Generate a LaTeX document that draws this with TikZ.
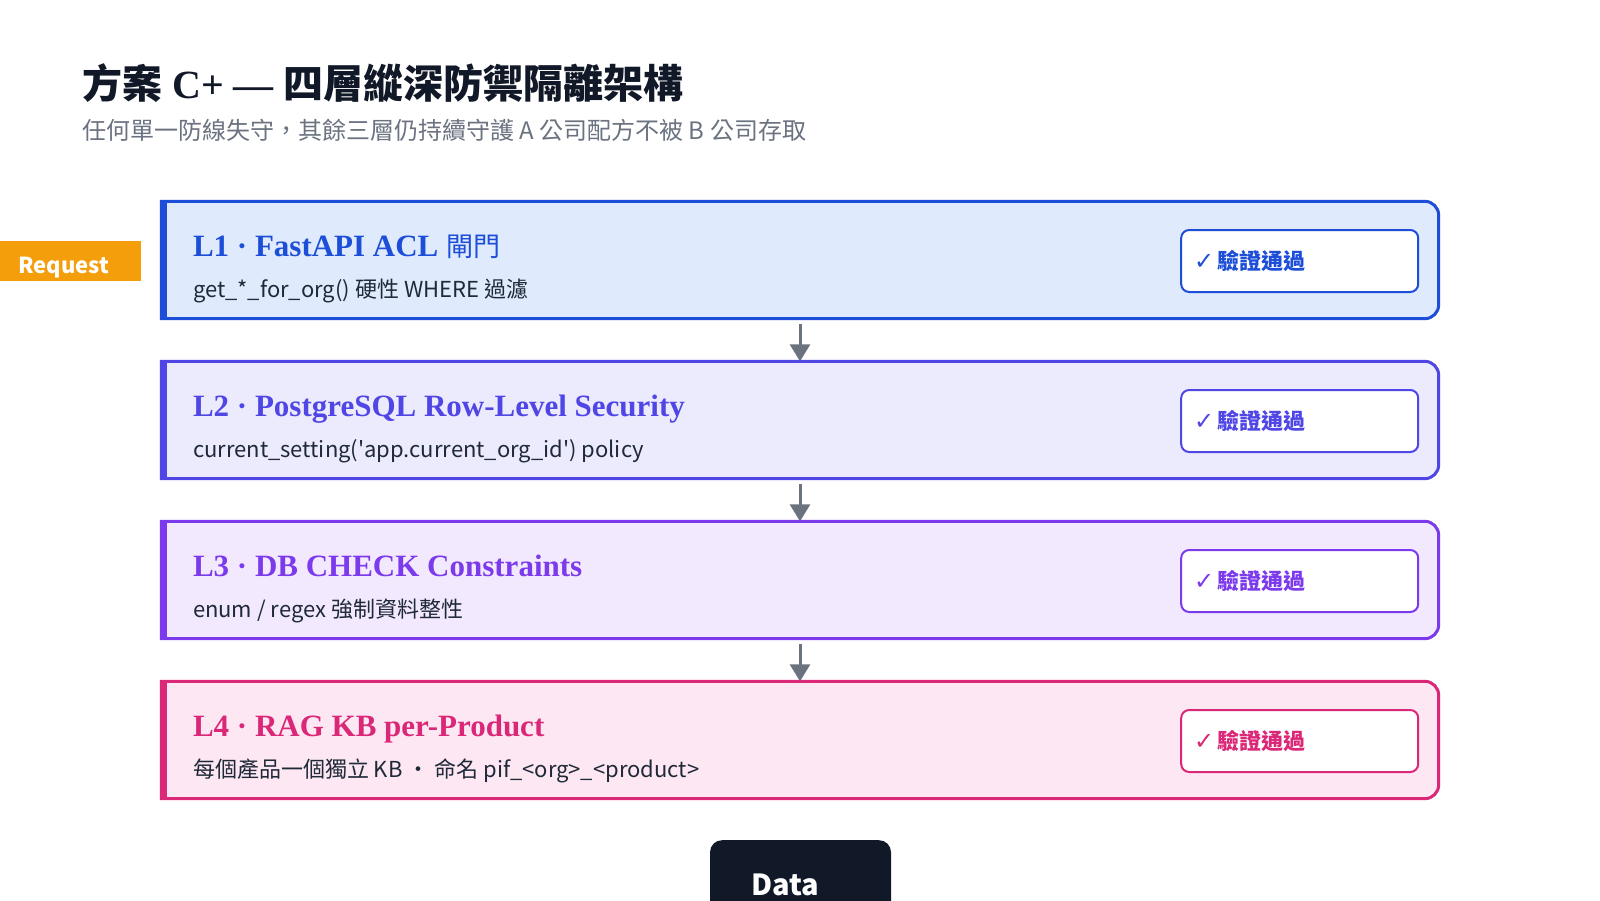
\documentclass[tikz,border=0pt]{standalone}
\usepackage{fontspec}
\setmainfont{Liberation Serif}
\newfontfamily\cjk{Noto Sans CJK TC}
\newfontfamily\djv{DejaVu Sans}
\usetikzlibrary{arrows.meta}
\definecolor{cA}{HTML}{1D4ED8}\definecolor{fA}{HTML}{DFEAFD}
\definecolor{cB}{HTML}{4F46E5}\definecolor{fB}{HTML}{ECEBFD}
\definecolor{cC}{HTML}{7C3AED}\definecolor{fC}{HTML}{F3E9FE}
\definecolor{cD}{HTML}{DB2777}\definecolor{fD}{HTML}{FCE7F3}
\definecolor{arrowgray}{HTML}{6B7280}
\definecolor{ink}{HTML}{111827}
\definecolor{subgray}{HTML}{6B7280}
\definecolor{bodytext}{HTML}{1F2937}
\definecolor{reqorange}{HTML}{F59E0B}
\definecolor{navy}{HTML}{111827}
\newcommand\layerbox[3]{%
  \filldraw[fill=#3, draw=#2, line width=3pt]
    (#1.north west) -- ([xshift=-14pt]#1.north east)
    arc[start angle=90, end angle=0, radius=14pt]
    -- ([yshift=14pt]#1.south east)
    arc[start angle=0, end angle=-90, radius=14pt]
    -- (#1.south west) -- cycle;
  \fill[#2] ([shift={(-1.5pt,1.5pt)}]#1.north west) rectangle ([shift={(5.5pt,-1.5pt)}]#1.south west);
}
\newcommand\okmark{{\djv\mdseries\fontsize{24}{26}\selectfont ✓}\hspace{3pt}驗證通過}
\tikzset{
  layer/.style={minimum width=1277pt, minimum height=117pt, inner sep=0pt, draw=none},
  ltitle/.style={anchor=base west, inner sep=0pt, font=\bfseries\fontsize{31}{36}\selectfont},
  lsub/.style={anchor=base west, inner sep=0pt, text=bodytext, font=\cjk\fontsize{22}{26}\selectfont},
  badge/.style={anchor=east, fill=white, line width=2pt, rounded corners=8pt,
    minimum height=62pt, text width=211pt, inner xsep=13pt, inner ysep=0pt, align=left,
    font=\cjk\bfseries\fontsize{22}{26}\selectfont},
  flow/.style={draw=arrowgray, line width=3pt, -{Triangle[width=20pt,length=17pt]}},
}
\begin{document}
\begin{tikzpicture}[x=1pt,y=-1pt]
\useasboundingbox (0,0) rectangle (1600,900);
\clip (0,0) rectangle (1600,900);
\fill[white] (0,0) rectangle (1600,900);

\node[anchor=base west, inner sep=0pt, text=ink, font=\bfseries\fontsize{40}{48}\selectfont] (title) at (82,98)
  {{\cjk 方案} C+ — {\cjk 四層縱深防禦隔離架構}};
\node[anchor=base west, inner sep=0pt, text=subgray, font=\cjk\fontsize{24}{28}\selectfont] (subtitle) at (82,139)
  {任何單一防線失守，其餘三層仍持續守護 A 公司配方不被 B 公司存取};

% layers
\node[layer] (l1) at (800,260) {};
\node[layer] (l2) at (800,420) {};
\node[layer] (l3) at (800,580) {};
\node[layer] (l4) at (800,740) {};
\layerbox{l1}{cA}{fA}
\layerbox{l2}{cB}{fB}
\layerbox{l3}{cC}{fC}
\layerbox{l4}{cD}{fD}

\node[ltitle, text=cA] (t1) at ([shift={(31.5pt,-55pt)}]l1.north west) {L1 · FastAPI ACL {\cjk\mdseries\fontsize{27}{30}\selectfont 閘門}};
\node[lsub] (s1) at ([shift={(31.5pt,-96.5pt)}]l1.north west) {get\_*\_for\_org() 硬性 WHERE 過濾};
\node[ltitle, text=cB] (t2) at ([shift={(31.5pt,-55pt)}]l2.north west) {L2 · PostgreSQL Row-Level Security};
\node[lsub] (s2) at ([shift={(31.5pt,-96.5pt)}]l2.north west) {current\_setting(\textquotesingle app.current\_org\_id\textquotesingle) policy};
\node[ltitle, text=cC] (t3) at ([shift={(31.5pt,-55pt)}]l3.north west) {L3 · DB CHECK Constraints};
\node[lsub] (s3) at ([shift={(31.5pt,-96.5pt)}]l3.north west) {enum / regex 強制資料整性};
\node[ltitle, text=cD] (t4) at ([shift={(31.5pt,-55pt)}]l4.north west) {L4 · RAG KB per-Product};
\node[lsub] (s4) at ([shift={(31.5pt,-96.5pt)}]l4.north west) {每個產品一個獨立 KB ・ 命名 pif\_<org>\_<product>};

\node[badge, draw=cA, text=cA] (b1) at ([shift={(-19.5pt,-1pt)}]l1.east) {\okmark};
\node[badge, draw=cB, text=cB] (b2) at ([shift={(-19.5pt,-1pt)}]l2.east) {\okmark};
\node[badge, draw=cC, text=cC] (b3) at ([shift={(-19.5pt,-1pt)}]l3.east) {\okmark};
\node[badge, draw=cD, text=cD] (b4) at ([shift={(-19.5pt,-1pt)}]l4.east) {\okmark};

\draw[flow] ([yshift=-5.5pt]l1.south) -- (l2.north);
\draw[flow] ([yshift=-5.5pt]l2.south) -- (l3.north);
\draw[flow] ([yshift=-5.5pt]l3.south) -- (l4.north);

% request
\node[fill=reqorange, minimum width=141pt, minimum height=40pt, inner sep=0pt, anchor=north west] (req) at (0,241) {};
\node[anchor=base west, inner sep=0pt, text=white, font=\cjk\bfseries\fontsize{22}{26}\selectfont] (reqtext) at (18,273) {Request};

% data
\node[fill=navy, rounded corners=12pt, minimum width=181pt, minimum height=100pt, inner sep=0pt, anchor=north] (data) at (800.5,840) {};
\node[anchor=base west, inner sep=0pt, text=white, font=\cjk\bfseries\fontsize{29}{33}\selectfont] (datatext) at (751,895) {Data};
\end{tikzpicture}
\end{document}
